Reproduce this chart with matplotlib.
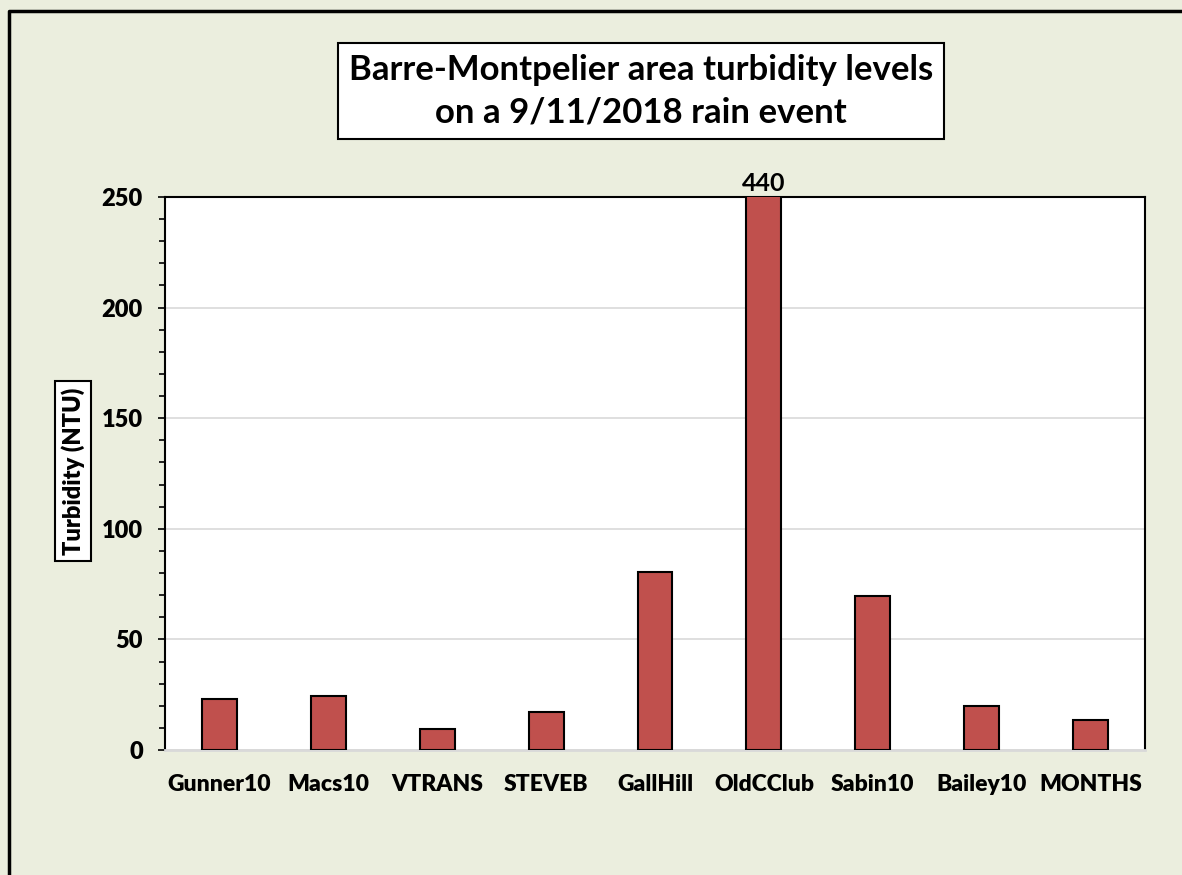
import numpy as np
import matplotlib.pyplot as plt
from matplotlib.lines import Line2D
from matplotlib.ticker import MultipleLocator

# site names and turbidity readings (NTU)
sites = ['Gunner10', 'Macs10', 'VTRANS', 'STEVEB', 'GallHill',
         'OldCClub', 'Sabin10', 'Bailey10', 'MONTHS']
turbidity = [23, 24.5, 9.5, 17, 80.5, 440, 69.5, 20, 13.5]
yticks = [0, 50, 100, 150, 200, 250]

plt.rcParams['font.family'] = ['Lato', 'DejaVu Sans']
plt.rcParams['font.weight'] = 'bold'

bg = '#EBEEDE'
fig = plt.figure(figsize=(11.82, 8.75), dpi=100, facecolor=bg)
ax = fig.add_axes([165 / 1182, 1 - 750 / 875, 980 / 1182, 553 / 875])

x = np.arange(len(sites))
ax.bar(x, turbidity, width=0.32, color='#C0504D', edgecolor='black',
       linewidth=1.5, zorder=3)

ax.set_ylim(0, 250)
ax.set_xlim(-0.5, len(sites) - 0.5)
ax.set_yticks(yticks)
ax.yaxis.set_minor_locator(MultipleLocator(10))
ax.set_xticks(x)
ax.set_xticklabels(sites, fontsize=16.5, fontweight='heavy')
ax.tick_params(axis='x', length=0, pad=17)
ax.tick_params(axis='y', which='major', length=5, width=1.2, labelsize=17, pad=11)
ax.tick_params(axis='y', which='minor', length=4, width=1.2)
for lab in ax.get_yticklabels():
    lab.set_fontweight('heavy')

ax.grid(axis='y', color='#D9D9D9', linewidth=1.2, zorder=0)
for s in ['left', 'top', 'right']:
    ax.spines[s].set_linewidth(1.5)
ax.spines['bottom'].set_color('#D9D9D9')
ax.spines['bottom'].set_linewidth(2)

# label for the clipped bar
i_max = int(np.argmax(turbidity))
ax.text(x[i_max], 251, f'{turbidity[i_max]:g}', ha='center', va='bottom',
        fontsize=18, fontweight='bold')

# title box
fig.text(641 / 1182, 1 - 91 / 875,
         'Barre-Montpelier area turbidity levels\non a 9/11/2018 rain event',
         ha='center', va='center', fontsize=25, fontweight='bold',
         linespacing=1.4,
         bbox=dict(boxstyle='square,pad=0.3', facecolor='white',
                   edgecolor='black', linewidth=1.5))

# y axis label box
fig.text(73 / 1182, 1 - 471 / 875, 'Turbidity (NTU)', rotation=90,
         ha='center', va='center', fontsize=17, fontweight='heavy',
         bbox=dict(boxstyle='square,pad=0.25', facecolor='white',
                   edgecolor='black', linewidth=1.5))

# outer frame of the chart (top and left edges are visible)
fx, fy = 9 / 1182, 1 - 11 / 875
fig.add_artist(Line2D([fx, fx, 1.0], [0.0, fy, fy], transform=fig.transFigure,
                      color='black', linewidth=2.5))

fig.savefig('out.png', dpi=100, facecolor=bg)
